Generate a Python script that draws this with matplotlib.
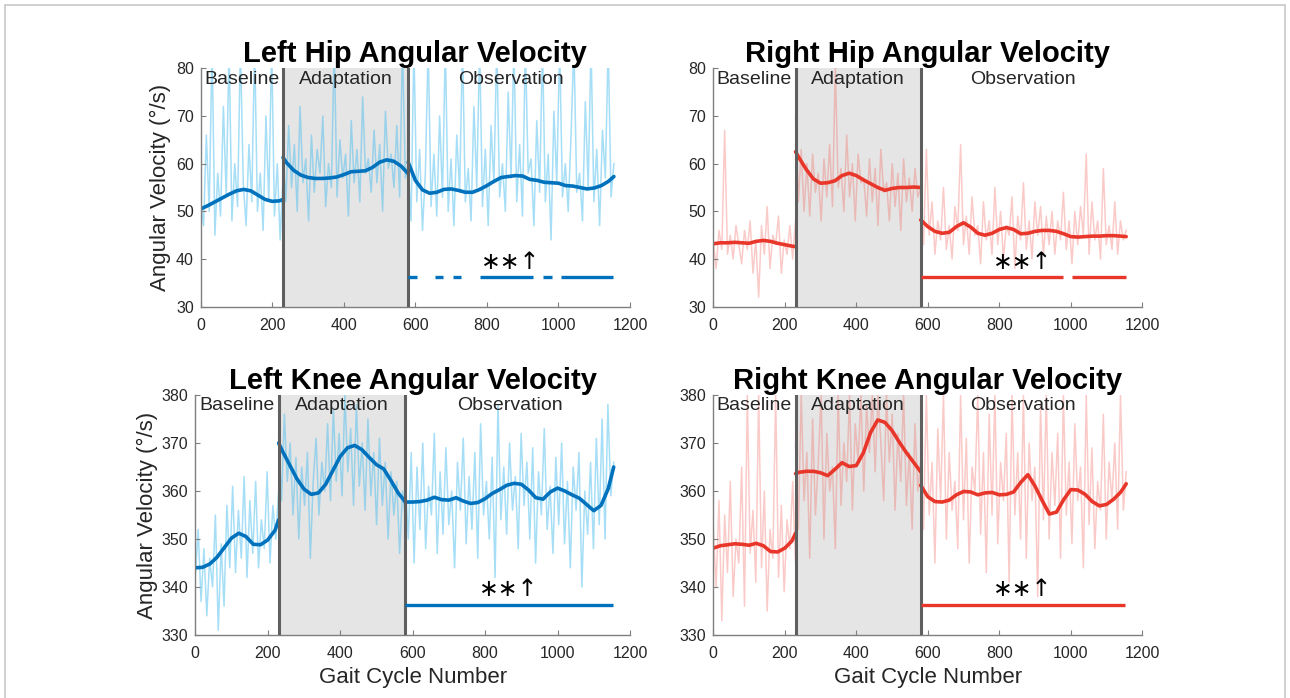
import numpy as np
import matplotlib
matplotlib.use("Agg")
import matplotlib.pyplot as plt
from matplotlib.patches import Rectangle

# phase limits in gait cycles
phase_edges = [0, 230, 580, 1155]
phase_names = ["Baseline", "Adaptation", "Observation"]

# knots of the smoothed curves, per phase
fit_x_base = [0, 20, 40, 60, 80, 100, 120, 140, 160, 180, 200, 220, 230]
fit_x_adapt = [230, 240, 260, 280, 300, 320, 340, 360, 380, 400, 420, 440, 460, 480, 500, 520, 540, 560, 580]
fit_x_obs = [580, 600, 620, 640, 660, 680, 700, 720, 740, 760, 780, 800, 820, 840, 860, 880, 900, 920,
             940, 960, 980, 1000, 1020, 1040, 1060, 1080, 1100, 1120, 1140, 1155]

# left hip
lh_fit_base = [50.5, 51.2, 52.0, 52.8, 53.6, 54.3, 54.6, 54.3, 53.4, 52.5, 52.1, 52.2, 52.5]
lh_fit_adapt = [61.3, 60.2, 58.6, 57.6, 57.1, 56.9, 56.9, 57.0, 57.2, 57.7, 58.3, 58.4, 58.5, 59.2, 60.3,
                60.8, 60.5, 59.5, 57.9]
lh_fit_obs = [60.3, 56.5, 54.5, 53.8, 54.0, 54.6, 54.7, 54.4, 54.0, 54.0, 54.6, 55.4, 56.3, 57.1, 57.3,
              57.5, 57.4, 56.7, 56.5, 56.1, 56.0, 55.9, 55.4, 55.3, 55.0, 54.7, 54.9, 55.4, 56.3, 57.3]
lh_raw_base = [52, 47, 66, 50, 85, 45, 58, 49, 72, 53, 85, 48, 60, 51, 85, 56, 47, 64, 52, 85, 50, 58, 46,
               70, 52, 85, 49, 60, 44, 57]
lh_raw_adapt = [62, 52, 68, 55, 64, 50, 72, 56, 61, 48, 66, 54, 63, 58, 70, 51, 60, 55, 85, 53, 65, 57, 62,
                49, 69, 56, 63, 52, 74, 58, 61, 54, 67, 56, 64, 50, 71, 59, 62, 55, 68, 53, 85, 57, 60]
lh_raw_obs = [60, 48, 85, 52, 63, 46, 58, 85, 51, 62, 49, 70, 53, 85, 50, 61, 47, 66, 54, 85, 52, 59, 48,
              72, 55, 85, 51, 63, 47, 68, 56, 85, 53, 60, 50, 75, 57, 85, 52, 64, 49, 85, 58, 61, 47, 69,
              54, 85, 52, 62, 44, 71, 56, 85, 53, 60, 50, 66, 85, 54, 58, 48, 73, 55, 85, 52, 63, 47, 67,
              57, 85, 53, 60]
lh_sig = [(580, 604), (655, 678), (706, 729), (781, 930), (958, 981), (1006, 1153)]

# right hip
rh_fit_base = [43.2, 43.4, 43.4, 43.5, 43.4, 43.3, 43.7, 43.9, 43.7, 43.3, 43.0, 42.7, 42.6]
rh_fit_adapt = [62.5, 61.2, 58.8, 56.8, 55.9, 56.0, 56.4, 57.5, 58.0, 57.5, 56.6, 55.8, 55.0, 54.4, 54.8,
                55.0, 55.0, 55.1, 55.0]
rh_fit_obs = [48.2, 46.8, 45.8, 45.4, 45.6, 46.8, 47.6, 46.7, 45.4, 45.0, 45.4, 46.2, 46.6, 46.2, 45.3,
              45.4, 45.8, 46.0, 46.0, 45.8, 45.3, 44.7, 44.6, 44.7, 44.8, 44.8, 44.9, 44.9, 44.8, 44.7]
rh_raw_base = [44, 38, 46, 42, 67, 41, 45, 40, 47, 43, 39, 46, 42, 48, 37, 44, 32, 47, 41, 51, 38, 45, 43,
               49, 37, 44, 41, 47, 40, 48]
rh_raw_adapt = [70, 52, 63, 50, 60, 49, 62, 54, 58, 48, 61, 53, 64, 51, 80, 55, 59, 50, 66, 53, 60, 48, 62,
                56, 57, 49, 61, 52, 59, 47, 63, 54, 56, 48, 60, 51, 58, 46, 61, 52, 57, 50, 59, 53, 55]
rh_raw_obs = [50, 43, 63, 45, 52, 41, 48, 44, 55, 42, 47, 40, 51, 46, 64, 43, 49, 41, 53, 45, 47, 39, 52,
              44, 48, 41, 55, 43, 50, 40, 47, 45, 53, 38, 49, 44, 56, 42, 48, 40, 52, 45, 51, 41, 49, 43,
              50, 41, 48, 44, 54, 42, 48, 39, 50, 43, 51, 45, 62, 41, 52, 44, 48, 40, 59, 43, 47, 42, 52,
              41, 48, 44, 46]
rh_sig = [(580, 979), (1004, 1154)]

# left knee
lk_fit_base = [344.0, 344.1, 344.8, 346.2, 348.2, 350.2, 351.2, 350.5, 348.9, 348.8, 349.8, 351.8, 354.0]
lk_fit_adapt = [370.0, 368.4, 365.5, 362.6, 360.4, 359.3, 359.6, 361.4, 364.3, 367.2, 369.0, 369.5, 368.6,
                367.0, 365.5, 364.6, 362.2, 359.6, 357.7]
lk_fit_obs = [357.7, 357.7, 357.8, 358.1, 358.7, 358.2, 358.1, 358.6, 357.9, 357.4, 357.6, 358.4, 359.5,
              360.3, 361.2, 361.6, 361.4, 360.2, 358.6, 358.3, 359.8, 360.6, 360.0, 359.2, 358.5, 357.2,
              355.9, 357.0, 360.5, 365.0]
lk_raw_base = [342, 352, 337, 348, 334, 346, 340, 355, 331, 349, 336, 357, 344, 361, 343, 356, 346, 363,
               342, 358, 347, 362, 344, 354, 348, 364, 345, 357, 350, 360]
lk_raw_adapt = [372, 358, 376, 362, 370, 355, 367, 350, 365, 357, 368, 346, 362, 371, 355, 366, 360, 374,
                358, 377, 362, 372, 359, 380, 364, 373, 357, 378, 361, 370, 356, 375, 359, 368, 353, 371,
                357, 366, 350, 364, 355, 362, 347, 360, 354]
lk_raw_obs = [362, 350, 368, 345, 365, 352, 370, 348, 361, 355, 372, 347, 364, 351, 369, 353, 360, 344,
              366, 356, 371, 349, 363, 352, 368, 346, 374, 355, 362, 350, 367, 342, 378, 354, 365, 351,
              370, 356, 363, 348, 372, 357, 366, 350, 369, 345, 364, 355, 373, 352, 361, 347, 367, 353,
              370, 349, 362, 344, 365, 356, 368, 340, 360, 351, 366, 348, 371, 353, 375, 350, 378, 359, 366]
lk_sig = [(580, 1153)]

# right knee
rk_fit_base = [348.1, 348.6, 348.8, 349.0, 348.9, 348.7, 349.1, 348.6, 347.4, 347.3, 348.1, 349.6, 351.2]
rk_fit_adapt = [363.6, 363.9, 364.1, 364.1, 363.8, 363.2, 364.5, 365.9, 365.1, 365.3, 368.0, 372.2, 374.8,
                374.3, 372.6, 370.2, 368.0, 366.0, 364.0]
rk_fit_obs = [361.2, 358.8, 357.8, 357.7, 358.1, 359.2, 359.9, 359.8, 359.2, 359.6, 359.7, 359.2, 359.3,
              359.8, 361.8, 363.4, 361.0, 358.0, 355.2, 355.6, 358.2, 360.3, 360.2, 359.3, 357.8, 356.9,
              357.2, 358.3, 359.8, 361.5]
rk_raw_base = [352, 340, 358, 333, 355, 343, 362, 338, 350, 345, 365, 336, 380, 347, 356, 341, 380, 344,
               360, 335, 352, 346, 380, 342, 357, 339, 354, 348, 362, 345]
rk_raw_adapt = [370, 352, 380, 358, 368, 346, 375, 355, 366, 380, 350, 372, 360, 365, 348, 380, 357, 370,
                362, 380, 356, 374, 366, 380, 360, 378, 368, 380, 364, 380, 370, 358, 380, 366, 376, 356,
                372, 362, 380, 357, 368, 352, 374, 360, 366]
rk_raw_obs = [370, 352, 380, 355, 366, 345, 373, 358, 380, 350, 368, 356, 362, 348, 380, 354, 371, 345,
              365, 360, 380, 351, 368, 343, 376, 355, 380, 349, 366, 358, 372, 341, 380, 355, 368, 350,
              380, 346, 370, 358, 365, 338, 378, 354, 380, 350, 368, 357, 372, 346, 380, 355, 366, 349,
              374, 358, 365, 344, 380, 353, 369, 348, 362, 356, 376, 350, 366, 358, 370, 352, 380, 356, 364]
rk_sig = [(580, 1153)]

BLUE = "#0072BD"
BLUE_RAW = "#4DBEEE"
RED = "#E8372A"
RED_RAW = "#F25C54"

W, H = 1290, 698
fig = plt.figure(figsize=(W / 100, H / 100), dpi=100)
fig.patches.append(Rectangle((5 / W, -0.05), 1280 / W, 1 - 5 / H + 0.05, transform=fig.transFigure,
                             fill=False, edgecolor="#c8c8c8", lw=1.2))

# title, axes box in pixels, y range, y ticks, colours, raw/fit series, significance, ylabel x, flags
panels = [
    ("Left Hip Angular Velocity", [200.7, 68.3, 630, 306.7], (30, 80), range(30, 81, 10),
     BLUE, BLUE_RAW, 0.5, [lh_raw_base, lh_raw_adapt, lh_raw_obs], [lh_fit_base, lh_fit_adapt, lh_fit_obs],
     lh_sig, 36.3, 39.4, 160, True, False),
    ("Right Hip Angular Velocity", [713.3, 68.3, 1142.3, 306.7], (30, 80), range(30, 81, 10),
     RED, RED_RAW, 0.32, [rh_raw_base, rh_raw_adapt, rh_raw_obs], [rh_fit_base, rh_fit_adapt, rh_fit_obs],
     rh_sig, 36.3, 39.4, None, False, False),
    ("Left Knee Angular Velocity", [195.3, 395, 630, 635], (330, 380), range(330, 381, 10),
     BLUE, BLUE_RAW, 0.5, [lk_raw_base, lk_raw_adapt, lk_raw_obs], [lk_fit_base, lk_fit_adapt, lk_fit_obs],
     lk_sig, 336.3, 339.5, 147, True, True),
    ("Right Knee Angular Velocity", [713.3, 395, 1142.3, 635], (330, 380), range(330, 381, 10),
     RED, RED_RAW, 0.32, [rk_raw_base, rk_raw_adapt, rk_raw_obs], [rk_fit_base, rk_fit_adapt, rk_fit_obs],
     rk_sig, 336.3, 339.5, None, False, True),
]

fit_xs = [fit_x_base, fit_x_adapt, fit_x_obs]

for (title, box, ylim, yticks, dark, light, alpha, raws, fits, sig, sig_y, star_y,
     ylab_x, show_ylab, show_xlab) in panels:
    x0, y0, x1, y1 = box
    ax = fig.add_axes([x0 / W, 1 - y1 / H, (x1 - x0) / W, (y1 - y0) / H])
    ax.axvspan(phase_edges[1], phase_edges[2], color="#e5e5e5", lw=0, zorder=0)

    for k in range(3):
        xr = np.linspace(phase_edges[k], phase_edges[k + 1], len(raws[k]))
        ax.plot(xr, raws[k], color=light, alpha=alpha, lw=1.1, zorder=1)
        ax.plot(fit_xs[k], fits[k], color=dark, lw=2.6, zorder=2, solid_capstyle="round")

    for xb in phase_edges[1:3]:
        ax.axvline(xb, color="#5f5f5f", lw=2.2, zorder=3)

    for k in range(3):
        xm = (phase_edges[k] + phase_edges[k + 1]) / 2
        ax.text(xm, 1 - 11 / (y1 - y0), phase_names[k], transform=ax.get_xaxis_transform(),
                ha="center", va="center", fontsize=14, color="#262626", zorder=4,
                family="Liberation Sans")

    for s, e in sig:
        ax.hlines(sig_y, s, e, color=dark, lw=2.4, zorder=3)
    ax.text(865, star_y, "\u2217\u2217\u2191", ha="center", va="center", fontsize=17,
            family="DejaVu Sans", zorder=4)

    ax.set_xlim(0, 1200)
    ax.set_ylim(*ylim)
    ax.set_xticks(range(0, 1201, 200))
    ax.set_yticks(list(yticks))
    for sp in ["top", "right"]:
        ax.spines[sp].set_visible(False)
    for sp in ["left", "bottom"]:
        ax.spines[sp].set_color("#7f7f7f")
        ax.spines[sp].set_linewidth(1.0)
    ax.tick_params(direction="in", length=3.5, color="#7f7f7f", labelcolor="#262626", labelsize=11.5)
    ax.tick_params(axis="x", pad=8)
    ax.tick_params(axis="y", pad=5)
    for lab in ax.get_xticklabels() + ax.get_yticklabels():
        lab.set_family("Liberation Sans")

    ax.set_title(title, fontsize=21, fontweight="bold", pad=3, family="Liberation Sans")
    if show_ylab:
        ax.set_ylabel("Angular Velocity (\u00b0/s)", fontsize=16, va="center", color="#262626",
                      family="Liberation Sans")
        ax.yaxis.set_label_coords((ylab_x - x0) / (x1 - x0), 0.5)
    if show_xlab:
        ax.set_xlabel("Gait Cycle Number", fontsize=16, va="center", color="#262626",
                      family="Liberation Sans")
        ax.xaxis.set_label_coords(0.5, -42.7 / (y1 - y0))

fig.savefig("out.png", dpi=100)
